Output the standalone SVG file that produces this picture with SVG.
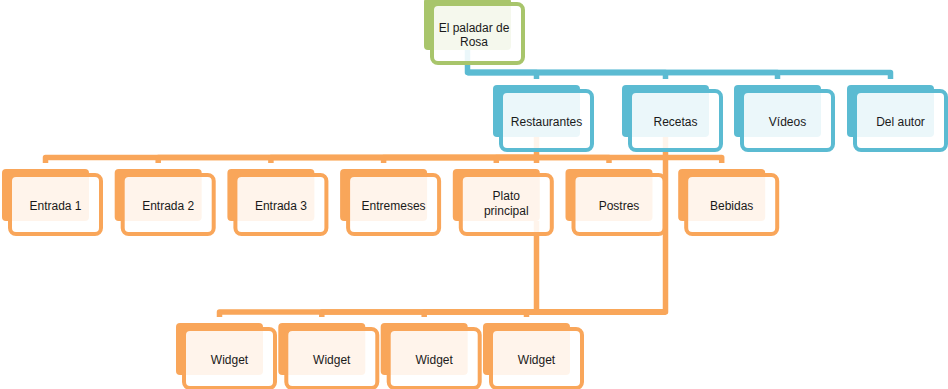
<svg xmlns="http://www.w3.org/2000/svg" width="948" height="389" viewBox="0 0 948 389">
<style>
.bg{fill:#A8C56B}.bb{fill:#5BBBD2}.bo{fill:#F9A65A}
.f{fill:#fff;fill-opacity:.88;stroke-width:4}
.fg{stroke:#A8C56B}.fb{stroke:#5BBBD2}.fo{stroke:#F9A65A}
.c{fill:none;stroke-width:5.5;stroke-linejoin:round}
.cb{stroke:#5BBBD2}.co{stroke:#F9A65A}
text{font-family:"Liberation Sans",Arial,sans-serif;font-size:12px;fill:#1a1a1a;text-anchor:middle}
</style>
<g id="connectors">
<path class="c cb" d="M467.5,50 V72.5 H536.5 V79"/>
<path class="c cb" d="M467.5,72.5 H665.5 V79"/>
<path class="c cb" d="M467.5,72.5 H777.5 V79"/>
<path class="c cb" d="M467.5,72.5 H890.5 V79"/>
<path class="c co" d="M536.5,137 V157.5 H45.5 V163"/>
<path class="c co" d="M536.5,157.5 H158.2 V163"/>
<path class="c co" d="M536.5,157.5 H270.9 V163"/>
<path class="c co" d="M536.5,157.5 H383.6 V163"/>
<path class="c co" d="M536.5,157.5 H496.3 V163"/>
<path class="c co" d="M536.5,157.5 V163"/>
<path class="c co" d="M536.5,157.5 H609 V163"/>
<path class="c co" d="M536.5,157.5 H721.7 V163"/>
<path class="c co" d="M536.5,221 V312"/>
<path class="c co" d="M665.5,137 V312 H219.5 V317"/>
<path class="c co" d="M665.5,312 H321.8 V317"/>
<path class="c co" d="M665.5,312 H424.2 V317"/>
<path class="c co" d="M665.5,312 H526.5 V317"/>
</g>
<g id="n-root"><rect class="bg" x="424" y="-2" width="87" height="52" rx="4"/><rect class="f fg" x="432" y="4" width="91" height="59" rx="6"/><text x="474" y="32">El paladar de</text><text x="474" y="46">Rosa</text></g>
<g id="n-restaurantes"><rect class="bb" x="493" y="85" width="87" height="52" rx="4"/><rect class="f fb" x="501" y="91" width="91" height="59" rx="6"/><text x="546.5" y="126">Restaurantes</text></g>
<g id="n-recetas"><rect class="bb" x="622" y="85" width="87" height="52" rx="4"/><rect class="f fb" x="630" y="91" width="91" height="59" rx="6"/><text x="675.5" y="126">Recetas</text></g>
<g id="n-videos"><rect class="bb" x="734" y="85" width="87" height="52" rx="4"/><rect class="f fb" x="742" y="91" width="91" height="59" rx="6"/><text x="787.5" y="126">Vídeos</text></g>
<g id="n-autor"><rect class="bb" x="847" y="85" width="87" height="52" rx="4"/><rect class="f fb" x="855" y="91" width="91" height="59" rx="6"/><text x="900.5" y="126">Del autor</text></g>
<g id="n-entrada1"><rect class="bo" x="2" y="169" width="87" height="52" rx="4"/><rect class="f fo" x="10" y="175" width="91" height="59" rx="6"/><text x="55.5" y="210">Entrada 1</text></g>
<g id="n-entrada2"><rect class="bo" x="114.7" y="169" width="87" height="52" rx="4"/><rect class="f fo" x="122.7" y="175" width="91" height="59" rx="6"/><text x="168.2" y="210">Entrada 2</text></g>
<g id="n-entrada3"><rect class="bo" x="227.4" y="169" width="87" height="52" rx="4"/><rect class="f fo" x="235.4" y="175" width="91" height="59" rx="6"/><text x="280.9" y="210">Entrada 3</text></g>
<g id="n-entremeses"><rect class="bo" x="340.1" y="169" width="87" height="52" rx="4"/><rect class="f fo" x="348.1" y="175" width="91" height="59" rx="6"/><text x="393.6" y="210">Entremeses</text></g>
<g id="n-plato"><rect class="bo" x="452.8" y="169" width="87" height="52" rx="4"/><rect class="f fo" x="460.8" y="175" width="91" height="59" rx="6"/><text x="506.3" y="199.5">Plato</text><text x="506.3" y="214.5">principal</text></g>
<g id="n-postres"><rect class="bo" x="565.5" y="169" width="87" height="52" rx="4"/><rect class="f fo" x="573.5" y="175" width="91" height="59" rx="6"/><text x="619" y="210">Postres</text></g>
<g id="n-bebidas"><rect class="bo" x="678.2" y="169" width="87" height="52" rx="4"/><rect class="f fo" x="686.2" y="175" width="91" height="59" rx="6"/><text x="731.7" y="210">Bebidas</text></g>
<g id="n-widget1"><rect class="bo" x="176" y="323" width="87" height="52" rx="4"/><rect class="f fo" x="184" y="329" width="91" height="59" rx="6"/><text x="229.5" y="364">Widget</text></g>
<g id="n-widget2"><rect class="bo" x="278.3" y="323" width="87" height="52" rx="4"/><rect class="f fo" x="286.3" y="329" width="91" height="59" rx="6"/><text x="331.8" y="364">Widget</text></g>
<g id="n-widget3"><rect class="bo" x="380.7" y="323" width="87" height="52" rx="4"/><rect class="f fo" x="388.7" y="329" width="91" height="59" rx="6"/><text x="434.2" y="364">Widget</text></g>
<g id="n-widget4"><rect class="bo" x="483" y="323" width="87" height="52" rx="4"/><rect class="f fo" x="491" y="329" width="91" height="59" rx="6"/><text x="536.5" y="364">Widget</text></g>
</svg>
